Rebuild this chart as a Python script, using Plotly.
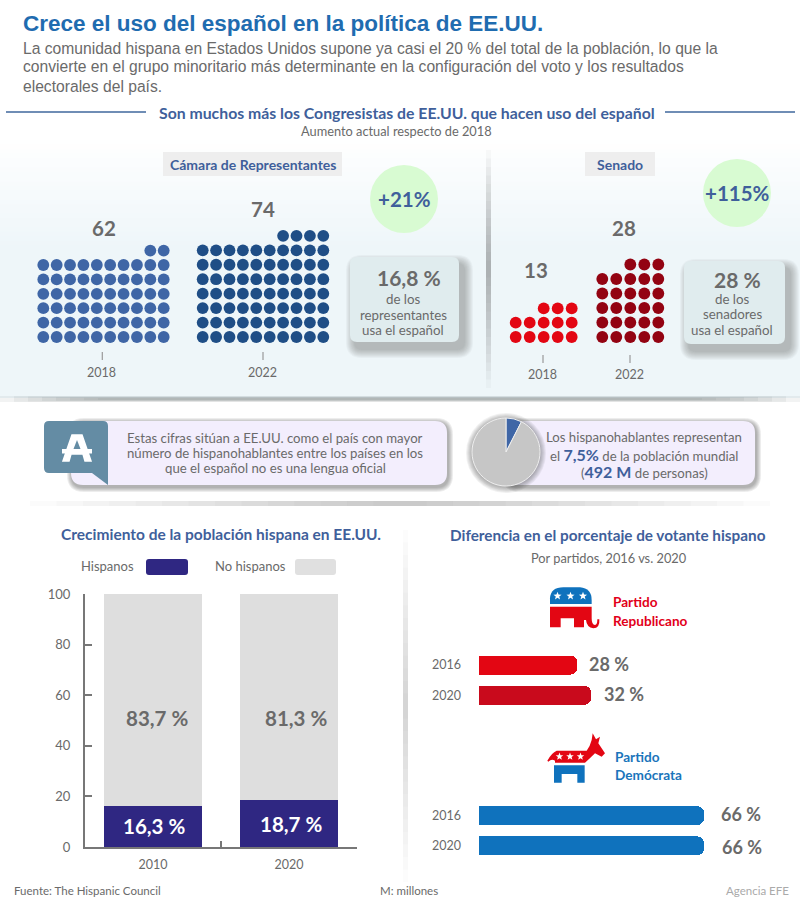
import math
import plotly.graph_objects as go

W, H = 800, 905
SANS = "Liberation Sans"
NARROW = "Lato"
GREY = "#6a6a6a"
NAVY = "#3f5f9b"

# data
chambers = ["2018", "2022"]
house_counts = [62, 74]
senate_counts = [13, 28]
house_change = "+21%"
senate_change = "+115%"
speakers_share = [7.5, 92.5]
pop_years = ["2010", "2020"]
hispanic = [16.3, 18.7]
non_hispanic = [83.7, 81.3]
hispanic_labels = ["16,3 %", "18,7 %"]
non_hispanic_labels = ["83,7 %", "81,3 %"]
vote_years = ["2016", "2020"]
rep_vote = [28, 32]
dem_vote = [66, 66]

subtitle_lines = [
    "La comunidad hispana en Estados Unidos supone ya casi el 20 % del total de la población, lo que la",
    "convierte en el grupo minoritario más determinante en la configuración del voto y los resultados",
    "electorales del país.",
]


def px(x):
    return x / W


def py(y):
    return 1 - y / H


fig = go.Figure()
shapes = []
notes = []


def text(x, y, s, size, color=GREY, font=NARROW, anchor="center"):
    notes.append(dict(x=px(x), y=py(y), xref="paper", yref="paper", text=s, showarrow=False,
                      xanchor=anchor, yanchor="middle", borderpad=0, borderwidth=0,
                      font=dict(family=font, size=size, color=color)))


def rect(x0, y0, x1, y1, color, layer="below"):
    shapes.append(dict(type="rect", xref="paper", yref="paper", x0=px(x0), y0=py(y0), x1=px(x1), y1=py(y1),
                       fillcolor=color, line_width=0, layer=layer))


def path(points, color, layer="below", line=0, line_color=None):
    shapes.append(dict(type="path", xref="paper", yref="paper", path=points, fillcolor=color,
                       line=dict(width=line, color=line_color or color), layer=layer))


def svg(cmds):
    out = []
    for c in cmds:
        nums = c[1:]
        pairs = [f"{px(nums[i])},{py(nums[i + 1])}" for i in range(0, len(nums), 2)]
        out.append(c[0] + " ".join(pairs))
    return " ".join(out)


def rounded(x0, y0, x1, y1, r):
    cmds = [("M", x0 + r, y0), ("L", x1 - r, y0), ("Q", x1, y0, x1, y0 + r), ("L", x1, y1 - r),
            ("Q", x1, y1, x1 - r, y1), ("L", x0 + r, y1), ("Q", x0, y1, x0, y1 - r), ("L", x0, y0 + r),
            ("Q", x0, y0, x0 + r, y0)]
    return svg(cmds) + " Z"


def box(x0, y0, x1, y1, r, fill, dx=5, dy=7, spread=9, alpha=0.045):
    # soft shadow made of stacked translucent boxes
    for i in range(spread, 0, -1):
        path(rounded(x0 + dx - i, y0 + dy - i, x1 + dx + i, y1 + dy + i, r + i), f"rgba(60,60,60,{alpha})")
    path(rounded(x0, y0, x1, y1, r), fill)


def soft_line(x0, y0, x1, y1, horizontal=True, peak=0.22, steps=14):
    # divider that fades out towards both ends
    for i in range(steps):
        f = i / steps
        if horizontal:
            a, b = x0 + (x1 - x0) * f / 2, x1 - (x1 - x0) * f / 2
            rect(a, y0, b, y1, f"rgba(90,90,90,{peak / steps * 2})")
        else:
            a, b = y0 + (y1 - y0) * f / 2, y1 - (y1 - y0) * f / 2
            rect(x0, a, x1, b, f"rgba(90,90,90,{peak / steps * 2})")


def star(cx, cy, r, color="white"):
    pts = []
    for k in range(10):
        rad = r if k % 2 == 0 else r * 0.42
        ang = -math.pi / 2 + k * math.pi / 5
        pts.append(("M" if k == 0 else "L", cx + rad * math.cos(ang), cy + rad * math.sin(ang)))
    path(svg(pts) + " Z", color)


axis_count = [1]


def new_axes(x0, x1, y0, y1, xopts, yopts):
    axis_count[0] += 1
    n = axis_count[0]
    fig.layout[f"xaxis{n}"] = dict(domain=[px(x0), px(x1)], anchor=f"y{n}", fixedrange=True, **xopts)
    fig.layout[f"yaxis{n}"] = dict(domain=[py(y1), py(y0)], anchor=f"x{n}", fixedrange=True, **yopts)
    return f"x{n}", f"y{n}"


HIDE = dict(visible=False, showgrid=False, zeroline=False)


def waffle(count, per_row, x_first, x_last, y_bottom, pitch_y, color):
    rows = (count + per_row - 1) // per_row
    pitch_x = (x_last - x_first) / (per_row - 1)
    xs, ys = [], []
    for i in range(count):
        # the top row is short and sits against the right edge
        row = i // per_row
        left = count - row * per_row
        col = i % per_row if left >= per_row else per_row - left + i % per_row
        xs.append(col)
        ys.append(row)
    xa, ya = new_axes(x_first - pitch_x / 2, x_last + pitch_x / 2,
                      y_bottom - (rows - 0.5) * pitch_y, y_bottom + pitch_y / 2,
                      dict(range=[-0.5, per_row - 0.5], **HIDE), dict(range=[-0.5, rows - 0.5], **HIDE))
    fig.add_trace(go.Scatter(x=xs, y=ys, mode="markers", xaxis=xa, yaxis=ya, hoverinfo="skip",
                             marker=dict(size=11.8, color=color, line_width=0)))


# top panel background, opaque bands fading from white
steps = 24
for i in range(steps):
    f = (i + 1) / steps
    r, g, b = [round(255 + (c - 255) * f) for c in (238, 246, 249)]
    rect(0, 140 + 110 * i / steps, 800, 398, f"rgb({r},{g},{b})")
for i in range(8):
    rect(0 + i * 14, 396 + i * 0.3, 800 - i * 14, 402 - i * 0.3, "rgba(110,120,120,0.09)")
soft_line(486, 150, 491, 388, horizontal=False, peak=0.24)
soft_line(403, 530, 408, 882, horizontal=False, peak=0.12)
soft_line(30, 501, 770, 506, peak=0.16)

# header
text(23, 23, "<b>Crece el uso del español en la política de EE.UU.</b>", 22.5, "#1f6cb0", SANS, "left")
for line, y in zip(subtitle_lines, [48, 67, 86]):
    text(23, y, line, 15.65, GREY, SANS, "left")
rect(6, 111, 146, 113, "#6f8db5")
rect(665, 111, 795, 113, "#6f8db5")
text(407, 113, "<b>Son muchos más los Congresistas de EE.UU. que hacen uso del español</b>", 15.8, NAVY)
text(396, 131, "Aumento actual respecto de 2018", 12.8)

# chamber headers
rect(163, 152, 342, 176, "#eeeeee")
text(253, 165, "<b>Cámara de Representantes</b>", 14, NAVY)
rect(585, 152, 655, 176, "#eeeeee")
text(620, 165, "<b>Senado</b>", 14, NAVY)

# dot groups
waffle(house_counts[0], 10, 43.3, 163.7, 337, 14.4, "#3f66a6")
waffle(house_counts[1], 10, 202.7, 323.3, 337, 14.45, "#1f4e86")
waffle(senate_counts[0], 5, 515.7, 571.7, 337, 14.3, "#e30613")
waffle(senate_counts[1], 5, 602.3, 658.3, 337, 14.5, "#930312")

text(104, 228, f"<b>{house_counts[0]}</b>", 20.5)
text(263, 209, f"<b>{house_counts[1]}</b>", 20.5)
text(536, 270, f"<b>{senate_counts[0]}</b>", 20.5)
text(624, 228, f"<b>{senate_counts[1]}</b>", 20.5)

for x, y_tick, y_lab, yr in zip([102.3, 263, 543, 630], [352, 352, 355, 355], [372, 372, 375, 375],
                                chambers * 2):
    rect(x - 0.6, y_tick, x + 0.6, y_tick + 8, "#999999")
    text(x - 0.5, y_lab, yr, 12.5)

# change circles
for cx, cy, label in [(404, 199, house_change), (737, 193, senate_change)]:
    shapes.append(dict(type="circle", xref="paper", yref="paper", x0=px(cx - 34), x1=px(cx + 34),
                       y0=py(cy + 34), y1=py(cy - 34), fillcolor="#d8fbd2", line_width=0, layer="below"))
    text(cx, cy, f"<b>{label}</b>", 20.5, NAVY)

# share boxes
box(350, 257, 459, 342, 7, "#e0ecee")
text(409, 277, "<b>16,8 %</b>", 21)
for y, s in zip([299, 315, 330], ["de los", "representantes", "usa el español"]):
    text(403, y, s, 13.3)
box(684, 261, 785, 344, 7, "#e0ecee")
text(737, 279, "<b>28 %</b>", 21)
for y, s in zip([299, 314, 330], ["de los", "senadores", "usa el español"]):
    text(732, y, s, 13.3)

# callouts
box(71, 421, 447, 485, 12, "#f3eefd", dx=1, dy=2, spread=5, alpha=0.09)
box(506, 421, 755, 485, 12, "#f3eefd", dx=1, dy=2, spread=5, alpha=0.09)
path(svg([("M", 49, 421), ("L", 103, 421), ("Q", 108, 421, 108, 426), ("L", 108, 485), ("L", 92, 473),
          ("L", 49, 473), ("Q", 44, 473, 44, 468), ("L", 44, 426), ("Q", 44, 421, 49, 421)]) + " Z", "#648ca4")
path(svg([("M", 72, 435), ("L", 82, 435), ("L", 91, 461), ("L", 85, 461), ("L", 83, 454), ("L", 71, 454),
          ("L", 69, 461), ("L", 63, 461)]) + " Z", "white", line=1.5, line_color="white")
path(svg([("M", 77, 440), ("L", 73.5, 449), ("L", 80.5, 449)]) + " Z", "#648ca4")
rect(62, 449, 92, 453.5, "white")
for y, s in zip([438, 453, 468], ["Estas cifras sitúan a EE.UU. como el país con mayor",
                                  "número de hispanohablantes entre los países en los",
                                  "que el español no es una lengua oficial"]):
    text(275, y, s, 13.2)
for i in range(6, 0, -1):
    shapes.append(dict(type="circle", xref="paper", yref="paper", x0=px(506 - 34 - i), x1=px(506 + 34 + i),
                       y0=py(453 + 34 + i), y1=py(453 - 34 - i), fillcolor="rgba(60,60,60,0.07)",
                       line_width=0, layer="below"))
fig.add_trace(go.Pie(values=speakers_share, sort=False, direction="clockwise", rotation=0,
                     domain=dict(x=[px(472), px(540)], y=[py(486), py(418)]),
                     marker=dict(colors=["#3f66a6", "#c6c6c6"], line=dict(color="#eeeeee", width=1)),
                     textinfo="none", hoverinfo="skip", showlegend=False))
text(644, 437, "Los hispanohablantes representan", 13.2)
text(644, 454, f'el <b><span style="font-size:16px;color:{NAVY}">7,5%</span></b> de la población mundial', 13.2)
text(644, 471, f'(<b><span style="font-size:16px;color:{NAVY}">492 M</span></b> de personas)', 13.2)

# population chart
text(221, 534, "<b>Crecimiento de la población hispana en EE.UU.</b>", 15.5, NAVY)
text(107, 566, "Hispanos", 13)
path(rounded(146, 559, 188, 575, 3), "#2f2782")
text(250, 566, "No hispanos", 13)
path(rounded(295, 559, 336, 575, 3), "#e0e0e0")

xa, ya = new_axes(85, 357, 594, 847,
                  dict(type="category", range=[-0.5, 1.5], showline=True, linecolor="#777777", linewidth=2,
                       ticks="inside", tickson="boundaries", ticklen=6, tickcolor="#777777", tickwidth=2,
                       showgrid=False, ticklabelstandoff=5, tickfont=dict(family=NARROW, size=12.5, color=GREY)),
                  dict(range=[0, 100], tickvals=[0, 20, 40, 60, 80, 100], showline=True, linecolor="#777777",
                       linewidth=2, ticks="inside", ticklen=7, tickcolor="#777777", tickwidth=2, showgrid=False,
                       zeroline=False, ticklabelstandoff=10, tickfont=dict(family=NARROW, size=13, color=GREY)))
fig.add_trace(go.Bar(x=pop_years, y=hispanic, name="Hispanos", xaxis=xa, yaxis=ya, marker_color="#2f2782",
                     hoverinfo="skip", width=0.72))
fig.add_trace(go.Bar(x=pop_years, y=non_hispanic, name="No hispanos", xaxis=xa, yaxis=ya, marker_color="#dedede",
                     hoverinfo="skip", width=0.72))
for x, y, s in zip([157, 296], [718, 718], non_hispanic_labels):
    text(x, y, f"<b>{s}</b>", 20.5)
for x, y, s in zip([154, 291], [826, 824], hispanic_labels):
    text(x, y, f"<b>{s}</b>", 20.5, "white")

# vote charts
text(608, 535, "<b>Diferencia en el porcentaje de votante hispano</b>", 15.3, NAVY)
text(609, 558, "Por partidos, 2016 vs. 2020", 12.8)


def vote_panel(values, y_mid, scale, colors):
    y_opts = dict(type="category", categoryorder="array", categoryarray=vote_years[::-1], showline=False,
                  showgrid=False, ticks="", ticklabelstandoff=17,
                  tickfont=dict(family=NARROW, size=12.5, color=GREY))
    xa, ya = new_axes(479, 479 + 70 * scale, y_mid - 30.3, y_mid + 30.3,
                      dict(range=[0, 70], **HIDE), y_opts)
    fig.add_trace(go.Bar(x=values, y=vote_years, orientation="h", xaxis=xa, yaxis=ya, hoverinfo="skip",
                         width=0.63, marker=dict(color=colors, cornerradius=7, line_width=0)))


vote_panel(rep_vote, 680.2, 3.51, ["#e30613", "#c90a1c"])
vote_panel(dem_vote, 830.8, 3.41, ["#0f72bd", "#0f72bd"])
for x, y, s in zip([609, 624], [664, 694], [f"{v} %" for v in rep_vote]):
    text(x, y, f"<b>{s}</b>", 18)
for x, y, s in zip([741, 742], [814, 847], [f"{v} %" for v in dem_vote]):
    text(x, y, f"<b>{s}</b>", 18)

# elephant, points read in a 3x crop of the page
def ex(cmds):
    return svg([(c[0], *[420 + v / 3 if i % 2 == 0 else 570 + v / 3 for i, v in enumerate(c[1:])]) for c in cmds])


path(ex([("M", 390, 102), ("L", 390, 85), ("Q", 392, 52, 430, 52), ("L", 480, 52), ("Q", 515, 55, 515, 90),
         ("L", 515, 102)]) + " Z", "#0f72bd")
path(ex([("M", 390, 110), ("L", 515, 110), ("L", 515, 145), ("Q", 515, 165, 525, 165), ("Q", 532, 165, 532, 148),
         ("L", 538, 148), ("Q", 540, 175, 520, 175), ("Q", 500, 172, 498, 150), ("L", 492, 150), ("L", 492, 172),
         ("L", 462, 172), ("L", 462, 145), ("L", 422, 145), ("L", 422, 172), ("L", 390, 172)]) + " Z", "#e30613")
for x in [557.5, 570.5, 583]:
    star(x, 596, 4.3)
text(613, 602, "<b>Partido</b>", 13.6, "#e2001a", NARROW, "left")
text(613, 621, "<b>Republicano</b>", 13.6, "#e2001a", NARROW, "left")

# donkey
path(ex([("M", 382, 572), ("Q", 395, 548, 410, 542), ("L", 500, 542), ("Q", 510, 530, 515, 510), ("L", 518, 490),
         ("L", 528, 508), ("L", 540, 500), ("L", 535, 520), ("L", 555, 550), ("L", 545, 560), ("L", 525, 550),
         ("Q", 510, 565, 495, 578), ("L", 405, 578), ("L", 405, 572), ("Q", 395, 565, 385, 575)]) + " Z", "#e30613")
path(ex([("M", 402, 586), ("L", 494, 586), ("L", 494, 638), ("L", 472, 638), ("L", 472, 612), ("L", 425, 612),
         ("L", 425, 638), ("L", 402, 638)]) + " Z", "#0f72bd")
for x in [559.5, 570, 580.5]:
    star(x, 756.5, 4)
text(615, 757, "<b>Partido</b>", 13.6, "#1a75bb", NARROW, "left")
text(615, 775, "<b>Demócrata</b>", 13.6, "#1a75bb", NARROW, "left")

# footer
text(14, 890, "Fuente: The Hispanic Council", 11.5, GREY, NARROW, "left")
text(380, 890, "M: millones", 11.5, GREY, NARROW, "left")
text(789, 890, "Agencia EFE", 11.5, "#aaaaaa", NARROW, "right")

fig.update_layout(template="none", width=W, height=H, margin=dict(l=0, r=0, t=0, b=0, pad=0), autosize=False,
                  barmode="stack", paper_bgcolor="white", plot_bgcolor="rgba(0,0,0,0)", showlegend=False,
                  xaxis=dict(visible=False), yaxis=dict(visible=False),
                  shapes=shapes, annotations=notes)
fig.write_html("out.html", config=dict(displayModeBar=False),
               post_script="document.body.style.margin='0';document.body.style.overflow='hidden';")
